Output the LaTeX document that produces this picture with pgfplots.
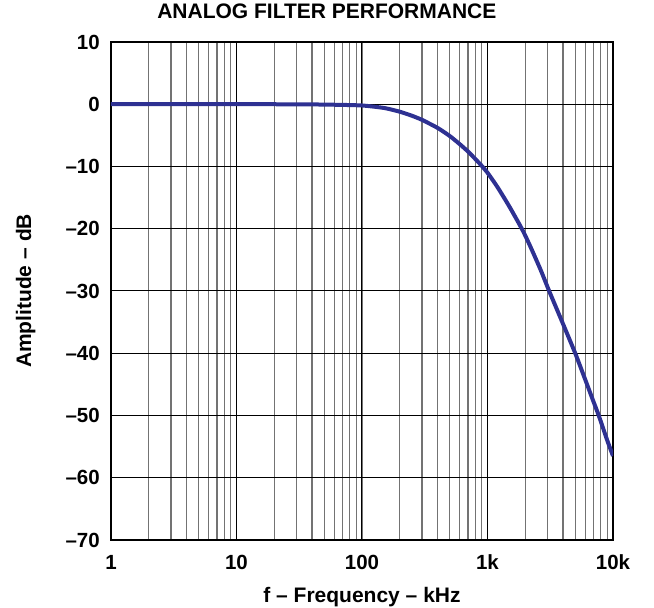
\documentclass[border=0pt]{standalone}
\usepackage{pgfplots}
\pgfplotsset{compat=1.18}
\usepackage{fontspec}
\setmainfont{Liberation Sans}

\definecolor{curveblue}{RGB}{46,49,146}
\definecolor{minorgray}{RGB}{115,115,115}

\pgfplotstableread{
f      db
1      0
10     0
20     0
40     -0.03
60     -0.08
100    -0.2
150    -0.6
200    -1.2
250    -1.85
300    -2.5
400    -3.8
500    -5.1
600    -6.4
700    -7.6
800    -8.8
900    -9.9
1000   -11.0
1200   -13.3
1500   -16.5
1900   -20.2
2200   -22.9
2650   -26.6
3100   -30
4000   -35.3
5000   -40
6000   -44.2
7000   -47.8
7700   -50
9000   -54
10000  -56.5
}\response

\begin{document}
\begin{tikzpicture}
\begin{axis}[
    name=ax,
    scale only axis,
    width=502pt, height=498pt,
    xmode=log,
    xmin=1, xmax=10000,
    ymin=-70, ymax=10,
    xtick={1,10,100,1000,10000},
    xticklabels={1,10,100,1k,10k},
    ytick={-70,-60,-50,-40,-30,-20,-10,0,10},
    yticklabels={–70,–60,–50,–40,–30,–20,–10,0,10},
    major tick length=0pt, minor tick length=0pt,
    xmajorgrids=true, xminorgrids=true, ymajorgrids=true,
    major grid style={black, line width=1pt},
    minor grid style={minorgray, line width=1.3pt},
    axis line style={black, line width=2pt},
    font=\fontsize{21}{25}\selectfont\bfseries,
    ticklabel style={font=\fontsize{20.5}{24}\selectfont\bfseries, inner sep=0pt},
    xticklabel style={anchor=base, yshift=-30pt},
    yticklabel style={anchor=east, xshift=-11pt},
    title={ANALOG FILTER PERFORMANCE},
    title style={at={(axis description cs:0.430,1.0361)}, anchor=base, inner sep=0pt},
    xlabel={f – Frequency – kHz},
    xlabel style={at={(axis description cs:0.5,-0.1265)}, anchor=base, inner sep=0pt},
    ylabel={Amplitude – dB},
    ylabel style={at={(axis description cs:-0.159,0.5)}, anchor=base, rotate=0, inner sep=0pt},
]
\addplot[color=curveblue, line width=4pt, smooth, tension=0.4] table[x=f, y=db] {\response};
\end{axis}
\path ([shift={(-111pt,-67pt)}]ax.south west) rectangle ([shift={(41pt,42pt)}]ax.north east);
\end{tikzpicture}
\end{document}
